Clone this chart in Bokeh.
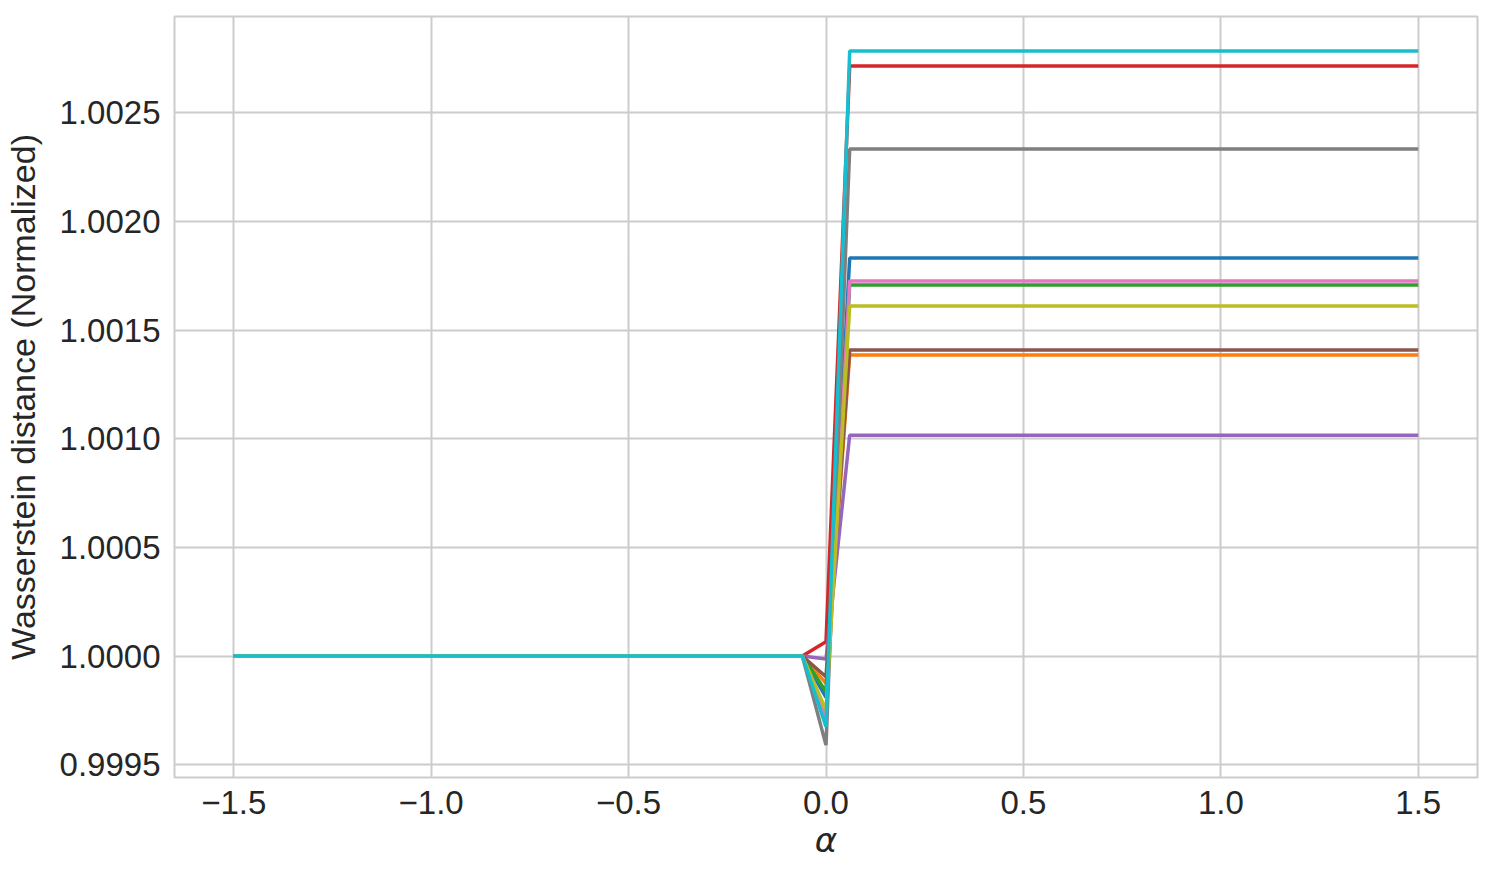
from bokeh.plotting import figure
from bokeh.models import FixedTicker, Range1d
from bokeh.embed import file_html
from bokeh.resources import INLINE

# alpha values where the curves change
alpha = [-1.5, -0.06, 0.0, 0.06, 1.5]

colors = ["#1f77b4", "#ff7f0e", "#2ca02c", "#d62728", "#9467bd",
          "#8c564b", "#e377c2", "#7f7f7f", "#bcbd22", "#17becf"]

s_blue   = [1.0, 1.0, 0.99981, 1.001832, 1.001832]
s_orange = [1.0, 1.0, 0.999874, 1.001386, 1.001386]
s_green  = [1.0, 1.0, 0.999836, 1.001708, 1.001708]
s_red    = [1.0, 1.0, 1.000066, 1.002716, 1.002716]
s_purple = [1.0, 1.0, 0.999986, 1.001017, 1.001017]
s_brown  = [1.0, 1.0, 0.999905, 1.001409, 1.001409]
s_pink   = [1.0, 1.0, 0.99972, 1.001727, 1.001727]
s_gray   = [1.0, 1.0, 0.99959, 1.002334, 1.002334]
s_olive  = [1.0, 1.0, 0.999751, 1.001611, 1.001611]
s_cyan   = [1.0, 1.0, 0.999675, 1.002785, 1.002785]

series = [s_blue, s_orange, s_green, s_red, s_purple,
          s_brown, s_pink, s_gray, s_olive, s_cyan]

x_ticks = [-1.5, -1.0, -0.5, 0.0, 0.5, 1.0, 1.5]
x_tick_labels = ["\u22121.5", "\u22121.0", "\u22120.5", "0.0", "0.5", "1.0", "1.5"]
y_ticks = [0.9995, 1.0, 1.0005, 1.001, 1.0015, 1.002, 1.0025]
y_tick_labels = ["0.9995", "1.0000", "1.0005", "1.0010", "1.0015", "1.0020", "1.0025"]

FONT = "Liberation Sans"
TXT = "#262626"
GRID = "#cccccc"

p = figure(frame_width=1303, frame_height=761,
           x_range=Range1d(-1.65, 1.65), y_range=Range1d(0.999441, 1.002944),
           output_backend="svg", toolbar_location=None,
           min_border_left=10, min_border_top=16, min_border_right=12, min_border_bottom=10)

for s, c in zip(series, colors):
    p.line(alpha, s, line_color=c, line_width=3.5)

p.xaxis.ticker = FixedTicker(ticks=x_ticks)
p.xaxis.major_label_overrides = {t: l for t, l in zip(x_ticks, x_tick_labels)}
p.yaxis.ticker = FixedTicker(ticks=y_ticks)
p.yaxis.major_label_overrides = {t: l for t, l in zip(y_ticks, y_tick_labels)}

for ax in (p.xaxis, p.yaxis):
    ax.axis_line_color = None
    ax.major_tick_line_color = None
    ax.minor_tick_line_color = None
    ax.major_label_text_font = FONT
    ax.major_label_text_font_size = "33px"
    ax.major_label_text_color = TXT
    ax.axis_label_text_font_size = "34px"
    ax.axis_label_text_color = TXT
    ax.axis_label_text_font_style = "normal"

p.xaxis.major_label_standoff = 7
p.yaxis.major_label_standoff = 8
p.xaxis.axis_label = "\u03b1"
p.xaxis.axis_label_text_font = "DejaVu Sans"
p.xaxis.axis_label_text_font_style = "italic"
p.xaxis.axis_label_standoff = 3
p.yaxis.axis_label = "Wasserstein distance (Normalized)"
p.yaxis.axis_label_text_font = FONT
p.yaxis.axis_label_standoff = 15

p.xgrid.grid_line_color = GRID
p.ygrid.grid_line_color = GRID
p.xgrid.grid_line_width = 2
p.ygrid.grid_line_width = 2
p.outline_line_color = GRID
p.outline_line_width = 2
p.background_fill_color = "white"
p.border_fill_color = "white"

open("out.html", "w").write(file_html(p, INLINE))
